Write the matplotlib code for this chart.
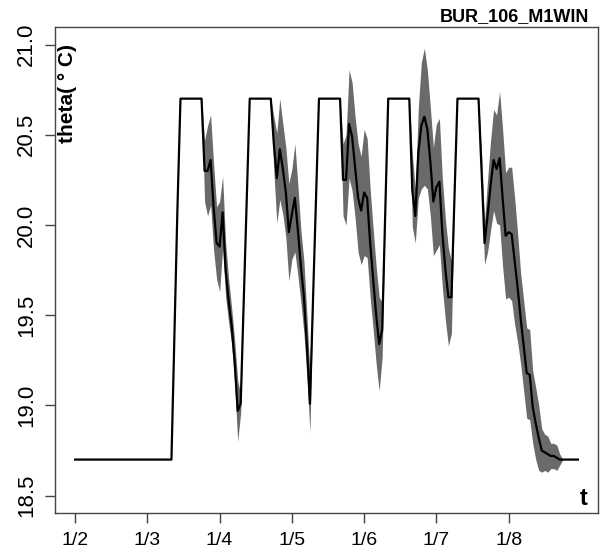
import numpy as np
import matplotlib
matplotlib.use("Agg")
import matplotlib.pyplot as plt

plt.rcParams['font.family'] = ['Liberation Sans', 'DejaVu Sans']

title = "BUR_106_M1WIN"
ylabel = "theta( \u00b0 C)"
xlabel = "t"

# hourly samples starting 1/2 00:00
start_day = 2
tick_days = [2, 3, 4, 5, 6, 7, 8]
tick_labels = ["1/2", "1/3", "1/4", "1/5", "1/6", "1/7", "1/8"]
y_ticks = [18.5, 19.0, 19.5, 20.0, 20.5, 21.0]

night0 = [18.7] * 33
rise0 = [19.4, 20.1]
plateau = [20.7] * 8
trough1 = [20.30, 20.30, 20.36, 20.10, 19.90, 19.88, 20.07, 19.75, 19.58, 19.44,
           19.24, 18.97, 19.01, 19.57, 20.13]
trough2 = [20.45, 20.26, 20.42, 20.31, 20.18, 19.96, 20.06, 20.15, 19.97, 19.77,
           19.60, 19.33, 19.01, 19.57, 20.13]
trough3 = [20.25, 20.25, 20.56, 20.49, 20.32, 20.15, 20.08, 20.18, 20.15, 19.90,
           19.70, 19.50, 19.34, 19.42, 20.06]
trough4 = [20.19, 20.05, 20.40, 20.55, 20.60, 20.53, 20.35, 20.13, 20.21, 20.24,
           19.95, 19.75, 19.60, 19.60, 20.15]
tail = [20.30, 19.90, 20.05, 20.22, 20.36, 20.31, 20.37, 20.15, 19.94, 19.96,
        19.95, 19.80, 19.65, 19.48, 19.33, 19.18, 19.17, 18.99, 18.90, 18.82,
        18.75, 18.74, 18.73, 18.72, 18.72, 18.71, 18.70]
night_end = [18.7] * 6

ci_trough1 = [0.17, 0.25, 0.25, 0.24, 0.20, 0.25, 0.20, 0.15, 0.12, 0.10,
              0.12, 0.17, 0.05, 0.0, 0.0]
ci_trough2 = [0.15, 0.25, 0.28, 0.25, 0.25, 0.27, 0.25, 0.30, 0.25, 0.20,
              0.20, 0.17, 0.16, 0.0, 0.0]
ci_trough3 = [0.20, 0.25, 0.30, 0.30, 0.28, 0.30, 0.30, 0.35, 0.33, 0.30,
              0.28, 0.27, 0.26, 0.15, 0.0]
ci_trough4 = [0.20, 0.15, 0.25, 0.35, 0.38, 0.33, 0.30, 0.30, 0.35, 0.35,
              0.30, 0.28, 0.27, 0.20, 0.0]
ci_tail = [0.10, 0.12, 0.20, 0.25, 0.28, 0.30, 0.37, 0.38, 0.35, 0.36,
           0.37, 0.35, 0.30, 0.25, 0.25, 0.25, 0.25, 0.20, 0.20, 0.18,
           0.12, 0.10, 0.10, 0.07, 0.07, 0.07, 0.03]

theta = np.array(night0 + rise0 + plateau + trough1 + plateau + trough2 + plateau
                 + trough3 + plateau + trough4 + plateau + tail + night_end)
zeros8 = [0.0] * 8
ci = np.array([0.0] * 43 + ci_trough1 + zeros8 + ci_trough2 + zeros8 + ci_trough3
              + zeros8 + ci_trough4 + zeros8 + ci_tail + [0.0] * 6)

t = start_day + np.arange(len(theta)) / 24.0

fig = plt.figure(figsize=(6.0, 5.53), dpi=100)
ax = fig.add_axes([55 / 600, 40 / 553, 543 / 600, 486 / 553])

ax.fill_between(t, theta - ci, theta + ci, color='#6a6a6a', linewidth=0, zorder=1)
ax.plot(t, theta, color='black', linewidth=1.6, zorder=2)

span = t[-1] - t[0]
ax.set_xlim(t[0] - 0.04 * span, t[-1] + 0.04 * span)
ax.set_ylim(18.404, 21.097)

ax.set_xticks(tick_days)
ax.set_xticklabels(tick_labels)
ax.set_yticks(y_ticks)
ax.set_yticklabels([f"{v:.1f}" for v in y_ticks], rotation=90, va='center')
ax.tick_params(direction='out', length=7, width=1, color='#444444')
ax.tick_params(axis='x', labelsize=14, pad=7)
ax.tick_params(axis='y', labelsize=16, pad=6)

for s in ax.spines.values():
    s.set_color('#444444')
    s.set_linewidth(1.0)

ax.text(0.005, 0.965, ylabel, transform=ax.transAxes, rotation=90,
        ha='left', va='top', fontsize=15, fontweight='bold')
ax.text(0.980, 0.006, xlabel, transform=ax.transAxes,
        ha='right', va='bottom', fontsize=17, fontweight='bold')
fig.text(589 / 600, 1 - 21 / 553, title, ha='right', va='baseline',
         fontsize=13, fontweight='bold')

fig.savefig("out.png", dpi=100)
